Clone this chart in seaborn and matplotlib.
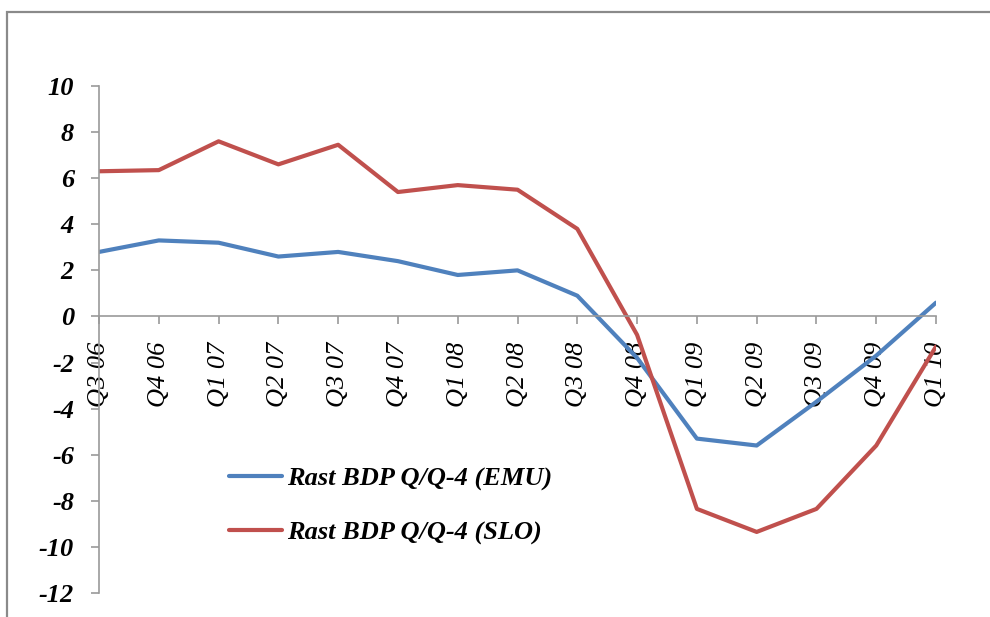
import numpy as np
import pandas as pd
import matplotlib
matplotlib.use("Agg")
import matplotlib.pyplot as plt
import seaborn as sns

# podatki (odčitano s slike)
quarters = ["Q3 06", "Q4 06", "Q1 07", "Q2 07", "Q3 07", "Q4 07", "Q1 08", "Q2 08",
            "Q3 08", "Q4 08", "Q1 09", "Q2 09", "Q3 09", "Q4 09", "Q1 10"]
emu = [2.8, 3.3, 3.2, 2.6, 2.8, 2.4, 1.8, 2.0, 0.9, -1.8, -5.3, -5.6, -3.7, -1.7, 0.6]
slo = [6.3, 6.35, 7.6, 6.6, 7.45, 5.4, 5.7, 5.5, 3.8, -0.8, -8.35, -9.35, -8.35, -5.6, -1.3]
series_names = ["Rast BDP Q/Q-4 (EMU)", "Rast BDP Q/Q-4 (SLO)"]
colors = ["#4F81BD", "#C0504D"]

df = pd.concat([
    pd.DataFrame({"x": range(len(quarters)), "val": emu, "serija": series_names[0]}),
    pd.DataFrame({"x": range(len(quarters)), "val": slo, "serija": series_names[1]}),
])

sns.set_style("ticks")
plt.rcParams["font.family"] = ["Liberation Serif", "DejaVu Serif"]
plt.rcParams["axes.unicode_minus"] = False
plt.rcParams["text.color"] = "black"

fig = plt.figure(figsize=(9.9, 6.17), dpi=100)
ax = fig.add_axes([0.1, 0.0389, 0.8455, 0.8217])

sns.lineplot(data=df, x="x", y="val", hue="serija", palette=colors,
             linewidth=3, ax=ax)

# x os skozi nič
ax.spines["top"].set_visible(False)
ax.spines["right"].set_visible(False)
ax.spines["bottom"].set_position(("data", 0))
for s in ["left", "bottom"]:
    ax.spines[s].set_color("#9a9a9a")
    ax.spines[s].set_linewidth(1.2)

ax.set_xlim(0, len(quarters) - 1)
ax.set_ylim(-12, 10)
ax.set_yticks(np.arange(-12, 11, 2))
ax.set_xticks(range(len(quarters)))
ax.set_xticklabels(quarters, rotation=90, fontsize=19, fontstyle="italic",
                   va="top", ha="center")
ax.set_yticklabels([str(v) for v in np.arange(-12, 11, 2)], fontsize=19,
                   fontweight="bold", fontstyle="italic")
ax.set_xlabel("")
ax.set_ylabel("")

ax.tick_params(axis="both", colors="#9a9a9a", length=6, width=1.2, labelcolor="black")
ax.tick_params(axis="y", pad=12)
ax.tick_params(axis="x", pad=12)

leg = ax.legend(loc="upper left", bbox_to_anchor=(0.14, 0.275), frameon=False,
                handlelength=2.0, handletextpad=0.2, labelspacing=1.15, borderpad=0,
                prop={"family": "Liberation Serif", "weight": "bold",
                      "style": "italic", "size": 19})
for t in leg.get_texts():
    t.set_color("black")

# okvir slike
fig.add_artist(plt.Rectangle((0.007, -0.1), 1.2, 1.0806, transform=fig.transFigure,
                             fill=False, edgecolor="#8a8a8a", linewidth=1.6))

fig.savefig("out.png", dpi=100)
